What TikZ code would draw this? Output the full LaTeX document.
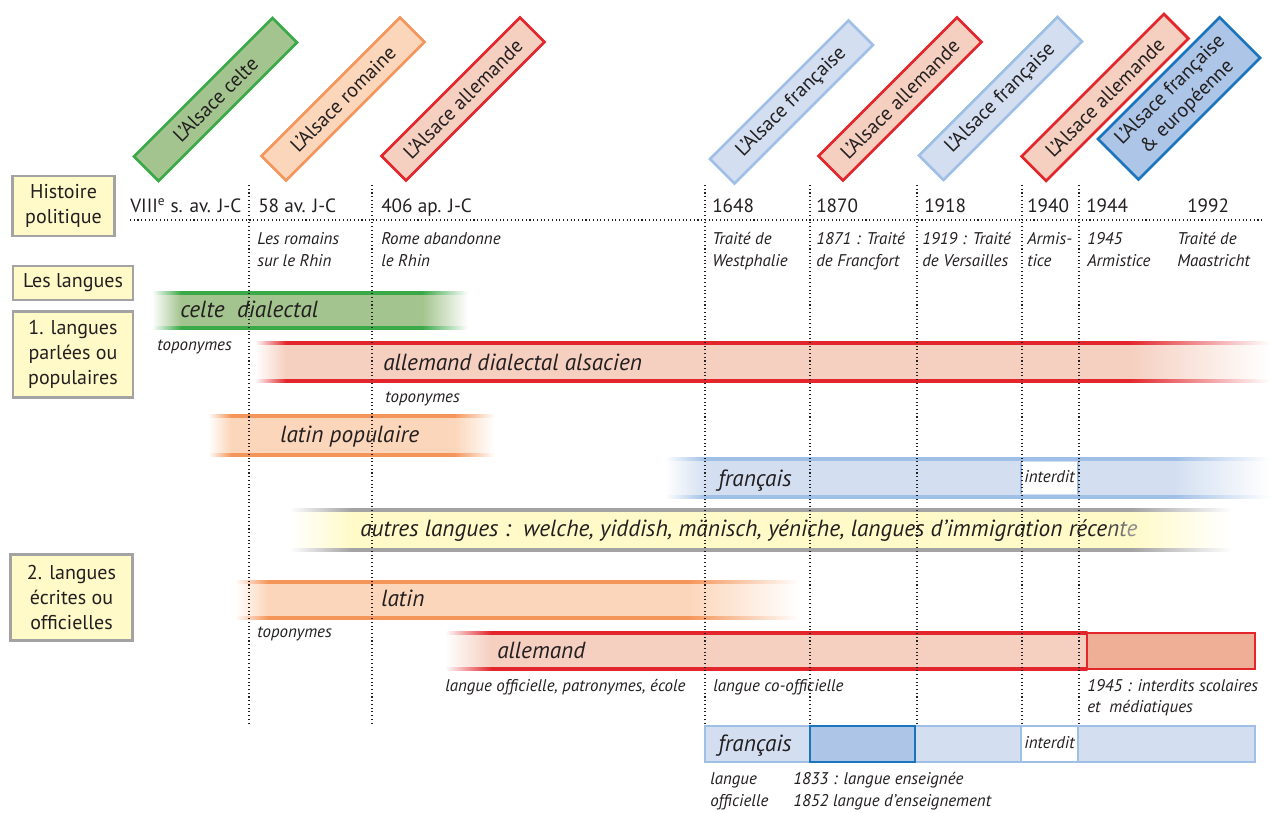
\documentclass[tikz,border=0pt]{standalone}
\usepackage{fontspec}
\setmainfont{PT Sans}
\usetikzlibrary{positioning}
\definecolor{vertfond}{HTML}{A3C48E}
\definecolor{vertbord}{HTML}{3AAA48}
\definecolor{orfond}{HTML}{FCD6BA}
\definecolor{orbord}{HTML}{F4965A}
\definecolor{rgfond}{HTML}{F5CFC0}
\definecolor{rgbord}{HTML}{E2262C}
\definecolor{rgfonce}{HTML}{EFAE96}
\definecolor{blfond}{HTML}{D3DFF1}
\definecolor{blbord}{HTML}{A0BFE6}
\definecolor{blfonce}{HTML}{ADC5E6}
\definecolor{blbordfonce}{HTML}{1B75BC}
\definecolor{jnfond}{HTML}{FFFAC8}
\definecolor{grbord}{HTML}{A3A3A3}
\definecolor{encre}{HTML}{231F20}

\tikzset{
	epoque/.style={line width=2pt, rotate=45, minimum width=147pt, minimum height=26pt, inner sep=0pt, text=encre, font=\fontsize{15}{18}\selectfont, align=center},
	rubrique/.style={draw=grbord, fill=jnfond, line width=2.2pt, inner sep=0pt, align=center, text=encre, font=\fontsize{15}{18.5}\selectfont},
	date/.style={anchor=base west, inner sep=0pt, text=encre, font=\fontsize{14.4}{18}\selectfont},
	note/.style={anchor=base west, inner sep=0pt, text=encre, font=\fontsize{12.7}{15}\selectfont\itshape},
	langue/.style={anchor=mid west, inner sep=0pt, text=encre, font=\fontsize{17.5}{20}\selectfont\itshape},
	pointille/.style={line width=0.8pt, dash pattern=on 0.8pt off 2pt, encre}
}

% x1, x2, haut, bas, fond, bord, fondu gauche, fondu droite
\newcommand{\bandelangue}[8]{%
	\shade[left color=#5,right color=#5] ({#1+#7},#3) rectangle ({#2-#8},#4);
	\shade[left color=white,right color=#5] (#1,#3) rectangle ({#1+#7+1},#4);
	\shade[left color=#5,right color=white] ({#2-#8-1},#3) rectangle (#2,#4);
	\shade[left color=#6,right color=#6] ({#1+#7},{#3-1.5}) rectangle ({#2-#8},{#3+1.5});
	\shade[left color=#6,right color=#6] ({#1+#7},{#4-1.5}) rectangle ({#2-#8},{#4+1.5});
	\shade[left color=white,right color=#6] (#1,{#3-1.5}) rectangle ({#1+#7+1},{#3+1.5});
	\shade[left color=white,right color=#6] (#1,{#4-1.5}) rectangle ({#1+#7+1},{#4+1.5});
	\shade[left color=#6,right color=white] ({#2-#8-1},{#3-1.5}) rectangle (#2,{#3+1.5});
	\shade[left color=#6,right color=white] ({#2-#8-1},{#4-1.5}) rectangle (#2,{#4+1.5});
}

\begin{document}
\begin{tikzpicture}[x=0.75pt, y=-0.75pt]
	\useasboundingbox (0,0) rectangle (1270,813);
	% bandeaux des epoques
	\node[epoque, draw=vertbord, fill=vertfond] (celte) at (215.5,99.5) {L'Alsace celte};
	\node[epoque, draw=orbord, fill=orfond] (romaine) at (343,99) {L'Alsace romaine};
	\node[epoque, draw=rgbord, fill=rgfond] (allem1) at (463,99) {L'Alsace allemande};
	\node[epoque, draw=blbord, fill=blfond] (franc1) at (791.5,102) {L'Alsace française};
	\node[epoque, draw=rgbord, fill=rgfond] (allem2) at (900,99) {L'Alsace allemande};
	\node[epoque, draw=blbord, fill=blfond] (franc2) at (1000.5,98.5) {L'Alsace française};
	\node[epoque, draw=rgbord, fill=rgfond, minimum width=151pt] (allem3) at (1105,97.5) {L'Alsace allemande};
	\node[epoque, draw=blbordfonce, fill=blfonce, minimum width=129pt, minimum height=43pt] (europe) at (1179,98.5) {L'Alsace française\\\& européenne};
	% rubriques
	\node[rubrique, minimum width=77pt, minimum height=45pt] (histoire) at (63.5,206) {Histoire\\politique};
	\node[rubrique, minimum width=90pt, minimum height=25.5pt] (langues) at (73,283) {Les langues};
	\node[rubrique, minimum width=90pt, minimum height=65pt] (parlees) at (73,354.5) {1. langues\\parlées ou\\populaires};
	\node[rubrique, minimum width=92pt, minimum height=65pt] (ecrites) at (71.5,597.5) {2. langues\\écrites ou\\officielles};
	% bandes des langues
	\bandelangue{152}{468}{293}{328}{vertfond}{vertbord}{28}{45}
	\bandelangue{255}{1270}{343}{381}{rgfond}{rgbord}{30}{140}
	\bandelangue{208}{495}{416}{455}{orfond}{orbord}{22}{40}
	\bandelangue{665}{1270}{459}{497}{blfond}{blbord}{40}{95}
	\bandelangue{290}{1232}{510}{550}{jnfond}{grbord}{60}{100}
	\bandelangue{235}{800}{582}{618}{orfond}{orbord}{32}{110}
	\bandelangue{445}{1088}{633}{669}{rgfond}{rgbord}{45}{1}
	\draw[rgbord, fill=rgfonce, line width=2.2pt] (1087,633) rectangle (1255,669);
	\fill[white] (1021,462) rectangle (1078,494);
	\draw[blbord, line width=1pt] (1021,462) -- (1021,494) (1078,462) -- (1078,494);
	\draw[blbord, fill=blfond, line width=2.2pt] (705,726) rectangle (1255,762);
	\draw[blbordfonce, fill=blfonce, line width=2pt] (810,726) rectangle (915,762);
	\draw[blbord, fill=white, line width=1.5pt] (1021,726) rectangle (1078,762);
	% lignes de temps
	\draw[pointille] (130,220) -- (1262,220);
	\draw[pointille] (249,185) -- (249,724);
	\draw[pointille] (372,185) -- (372,724);
	\draw[pointille] (705,185) -- (705,724);
	\draw[pointille] (810,185) -- (810,724);
	\draw[pointille] (917,185) -- (917,724);
	\draw[pointille] (1022,185) -- (1022,724);
	\draw[pointille] (1079,185) -- (1079,724);
	% dates
	\node[date] (d1) at (130,212) {VIII\textsuperscript{e} s. av. J-C};
	\node[date] (d2) at (258,212) {58 av. J-C};
	\node[date] (d3) at (381,212) {406 ap. J-C};
	\node[date] (d4) at (712,212) {1648};
	\node[date] (d5) at (816,212) {1870};
	\node[date] (d6) at (924,212) {1918};
	\node[date] (d7) at (1027,212) {1940};
	\node[date] (d8) at (1086,212) {1944};
	\node[date] (d9) at (1187,212) {1992};
	% evenements
	\node[note] (e2a) at (257,244) {Les romains};
	\node[note] (e2b) at (257,266) {sur le Rhin};
	\node[note] (e3a) at (381,244) {Rome abandonne};
	\node[note] (e3b) at (381,266) {le Rhin};
	\node[note] (e4a) at (712,244) {Traité de};
	\node[note] (e4b) at (712,266) {Westphalie};
	\node[note] (e5a) at (816,244) {1871 : Traité};
	\node[note] (e5b) at (816,266) {de Francfort};
	\node[note] (e6a) at (922,244) {1919 : Traité};
	\node[note] (e6b) at (922,266) {de Versailles};
	\node[note] (e7a) at (1027,244) {Armis-};
	\node[note] (e7b) at (1027,266) {tice};
	\node[note] (e8a) at (1087,244) {1945};
	\node[note] (e8b) at (1087,266) {Armistice};
	\node[note] (e9a) at (1177,244) {Traité de};
	\node[note] (e9b) at (1177,266) {Maastricht};
	% noms des langues
	\node[langue] (celtedial) at (180,314) {celte\ \ dialectal};
	\node[langue] (alsacien) at (383,367) {allemand dialectal alsacien};
	\node[langue] (latinpop) at (280,439) {latin populaire};
	\node[langue] (francparle) at (718,483) {français};
	\node[langue] (autres) at (360,533) {autres langues :\ \ welche, yiddish, mänisch, yéniche, langues d'immigration réce\textcolor{black!70}{n}\textcolor{black!55}{t}\textcolor{black!45}{e}};
	\node[langue] (latin) at (381,603) {latin};
	\node[langue] (allemand) at (497,655) {allemand};
	\node[langue] (francecrit) at (718,748) {français};
	\node[note, anchor=mid] (interdit1) at (1049.5,479) {interdit};
	\node[note, anchor=mid] (interdit2) at (1049.5,745) {interdit};
	% remarques
	\node[note] (topo1) at (157,350) {toponymes};
	\node[note] (topo2) at (385,402) {toponymes};
	\node[note] (topo3) at (257,637) {toponymes};
	\node[note] (offic) at (445,691) {langue officielle, patronymes, école};
	\node[note] (cooffic) at (713,691) {langue co-officielle};
	\node[note] (interdits) at (1087,691) {1945 : interdits scolaires};
	\node[note] (mediat) at (1087,712) {et\ \ médiatiques};
	\node[note] (lgoff1) at (710,784) {langue};
	\node[note] (lgoff2) at (710,806) {officielle};
	\node[note] (ens1) at (793,784) {1833 : langue enseignée};
	\node[note] (ens2) at (793,806) {1852 langue d'enseignement};
\end{tikzpicture}
\end{document}
